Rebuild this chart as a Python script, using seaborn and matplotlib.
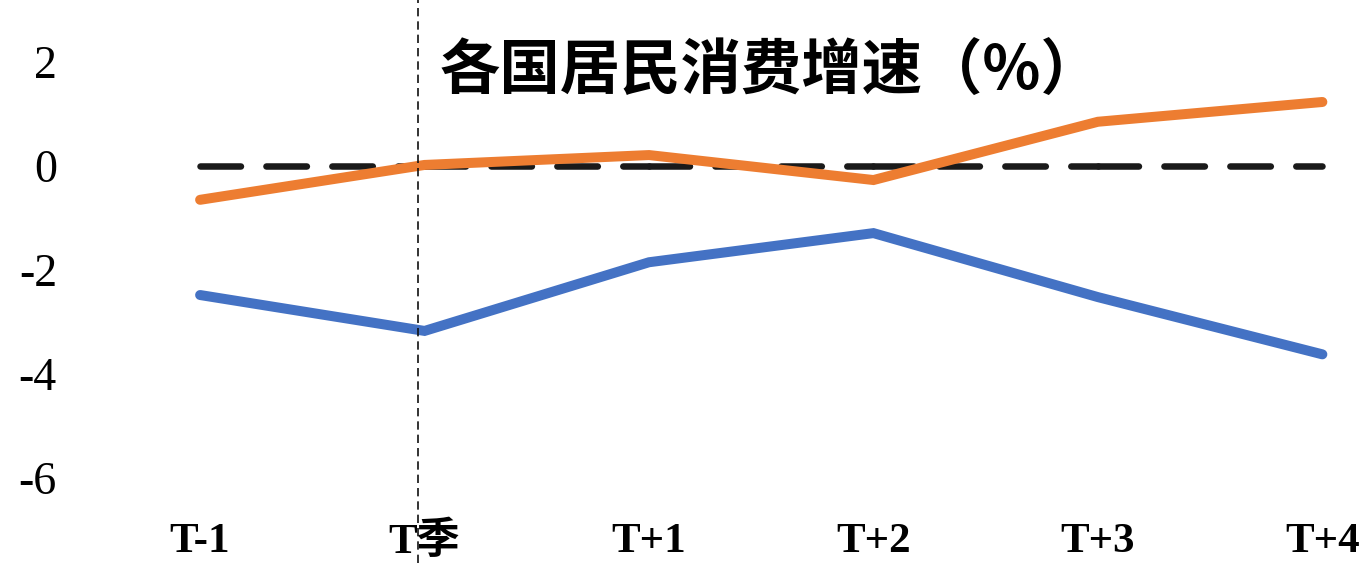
import matplotlib
matplotlib.use("Agg")
import matplotlib.pyplot as plt
import seaborn as sns
import pandas as pd

categories = ["T-1", "T季", "T+1", "T+2", "T+3", "T+4"]
orange_vals = [-0.65, 0.02, 0.21, -0.27, 0.85, 1.23]
blue_vals = [-2.48, -3.17, -1.85, -1.29, -2.52, -3.62]
zero_vals = [0, 0, 0, 0, 0, 0]
title_text = "各国居民消费增速（%）"
y_ticks = [-6, -4, -2, 0, 2]

sns.set_theme(style="white")
plt.rcParams["font.family"] = ["Liberation Serif", "Noto Sans CJK SC", "DejaVu Sans"]

df = pd.DataFrame({
    "period": categories * 2,
    "value": orange_vals + blue_vals,
    "series": ["序列1"] * len(categories) + ["序列2"] * len(categories),
})

# zero reference line, split per segment so the dash pattern restarts at each category
seg_rows = []
for i in range(len(categories) - 1):
    seg_rows.append({"period": categories[i], "value": zero_vals[i], "seg": i})
    seg_rows.append({"period": categories[i + 1], "value": zero_vals[i + 1], "seg": i})
df_zero = pd.DataFrame(seg_rows)

fig = plt.figure(figsize=(13.65, 5.63), dpi=100)
ax = fig.add_axes([100 / 1365, 0.0, 1 - 100 / 1365, 1.0])

sns.lineplot(data=df, x="period", y="value", hue="series",
             palette={"序列1": "#ED7D31", "序列2": "#4472C4"},
             linewidth=7.2, ax=ax, legend=False, sort=False, zorder=3)
n_series_lines = len(ax.lines)
for ln in ax.lines:
    ln.set_solid_capstyle("round")
    ln.set_solid_joinstyle("miter")

sns.lineplot(data=df_zero, x="period", y="value", units="seg", estimator=None,
             ax=ax, color="#1a1a1a", linewidth=4.7, sort=False, zorder=2)
for ln in ax.lines[n_series_lines:]:
    ln.set_dashes([6.2, 3.9])
    ln.set_dash_capstyle("round")
    ln.set_zorder(2)

ax.axvline(0.97, color="#111111", linewidth=1.2, linestyle=(0, (5, 3)), zorder=4)

ax.set_xlim(-0.446, 5.19)
ax.set_ylim(-7.63, 3.19)
ax.set_yticks(y_ticks)
ax.set_yticklabels([str(v) for v in y_ticks], fontsize=33, color="black")
ax.set_xticks(range(len(categories)))
ax.set_xticklabels(categories, fontsize=31, fontweight="bold", color="black")
ax.tick_params(axis="y", pad=31, length=0)
ax.tick_params(axis="x", length=0, pad=0, direction="in")
for lbl in ax.get_xticklabels():
    lbl.set_y(0.038)
    lbl.set_verticalalignment("center")
ax.set_xlabel("")
ax.set_ylabel("")
for s in ax.spines.values():
    s.set_visible(False)
ax.grid(False)

fig.text(440 / 1365, 1 - 72 / 563, title_text, fontsize=43.5, fontweight="bold",
         family=["Noto Sans CJK SC", "DejaVu Sans"], ha="left", va="center", color="black")

fig.savefig("out.png", dpi=100)
